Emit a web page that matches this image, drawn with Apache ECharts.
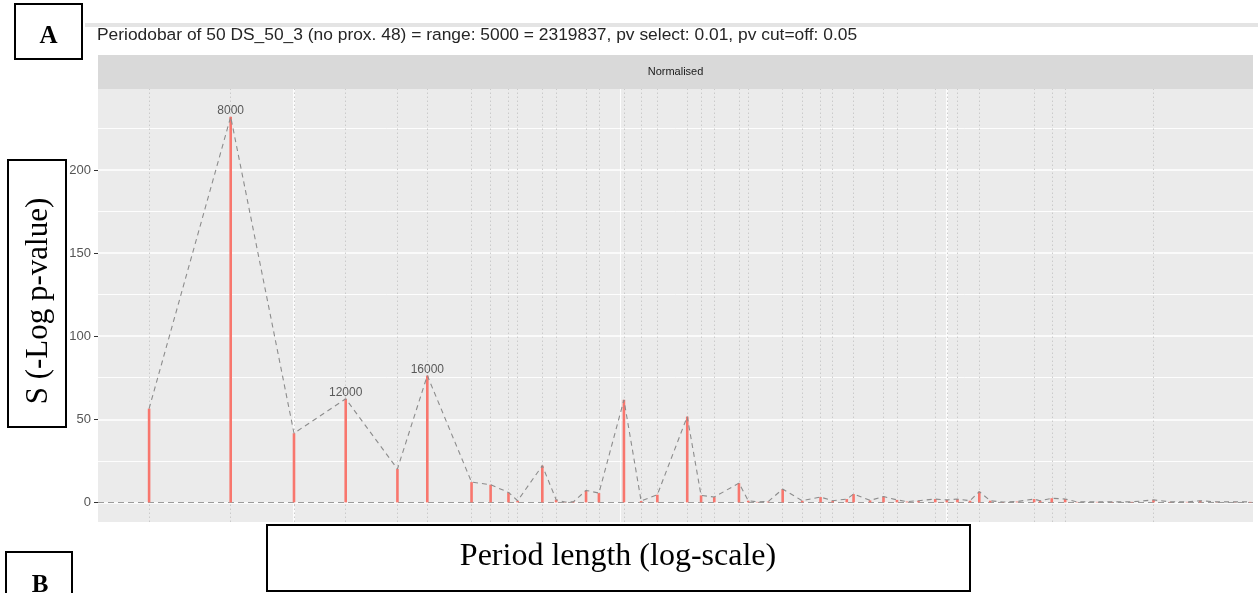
<!DOCTYPE html>
<html>
<head>
<meta charset="utf-8">
<script src="https://cdn.jsdelivr.net/npm/echarts@6/dist/echarts.min.js"></script>
<style>
html,body{margin:0;padding:0;background:#fff;}
#chart{width:1258px;height:593px;}
</style>
</head>
<body>
<div id="chart"></div>
<script>
// ---- data ----
const periods = [6000, 8000, 10000, 12000, 14400, 16000, 18700, 20000, 21300, 22000,
  24000, 25200, 26000, 26800, 28000, 29300, 32000, 34000, 36000, 40000,
  42000, 44000, 48000, 49600, 51200, 53200, 56000, 60000, 64000, 66800,
  70200, 71900, 76200, 79900, 83800, 86800, 90400, 95900, 99900, 103700,
  108400, 112000, 116400, 121800, 127900, 135900, 138800, 144600, 151600, 158000,
  169600, 178700, 191800, 207000, 219500, 232900, 244000, 258800, 276100, 291100];
const scores = [56.4, 232, 41.6, 62.3, 20.1, 76.3, 12.2, 10.6, 6.0, 1.0,
  22.1, 1.6, 0.2, 0.5, 7.2, 5.6, 61.7, 0.8, 4.6, 51.6,
  4.2, 3.2, 11.6, 1.0, 0.3, 0.5, 8.0, 1.0, 3.2, 1.0,
  2.0, 5.0, 1.2, 3.5, 1.5, 0.5, 1.0, 2.0, 1.5, 2.0,
  1.0, 6.5, 1.0, 0.2, 0.5, 2.0, 1.0, 2.5, 2.0, 0.3,
  0.3, 0.3, 0.3, 1.5, 0.3, 0.3, 1.0, 0.3, 0.3, 0.3];
// periods marked with a dotted vertical guide (selected periods)
const selectedPeriods = [6000, 8000, 10000, 12000, 14400, 16000, 18700, 20000, 21300, 22000,
  24000, 25200, 28000, 29300, 32000, 34000, 36000, 40000, 42000, 44000,
  48000, 49600, 56000, 60000, 64000, 66800, 71900, 79900, 83800, 95900,
  99900, 103700, 112000, 135900, 144600, 151600, 207000];
const labelPeriods = [8000, 12000, 16000];
const yTicks = [0, 50, 100, 150, 200];
const yMinorTicks = [25, 75, 125, 175, 225];
const xMajorBreaks = [10000, 100000];
const xMinorBreaks = [31623];
const titleText = 'Periodobar of 50 DS_50_3 (no prox. 48) = range: 5000 = 2319837, pv select: 0.01, pv cut=off: 0.05';
const stripText = 'Normalised';
const yLabelText = 'S (-Log p-value)';
const xLabelText = 'Period length (log-scale)';

// ---- build ----
const pts = periods.map((p, i) => [p, scores[i]]);
const labelPts = labelPeriods.map(p => [p, scores[periods.indexOf(p)]]);

const G = {left: 98, right: 5, top: 89, bottom: 71};

const gridLines = [];
yTicks.forEach(v => gridLines.push({yAxis: v, lineStyle: {color: '#ffffff', width: 1.6, type: 'solid'}}));
yMinorTicks.forEach(v => gridLines.push({yAxis: v, lineStyle: {color: '#ffffff', width: 0.9, type: 'solid'}}));
xMajorBreaks.forEach(v => gridLines.push({xAxis: v, lineStyle: {color: '#ffffff', width: 1.6, type: 'solid'}}));
xMinorBreaks.forEach(v => gridLines.push({xAxis: v, lineStyle: {color: '#ffffff', width: 0.9, type: 'solid'}}));

const dotted = selectedPeriods.map(p => ({xAxis: p, lineStyle: {color: '#c2c2c2', width: 0.8, type: [1.5, 2.5]}}));

const chart = echarts.init(document.getElementById('chart'), null, {renderer: 'canvas'});
chart.setOption({
  animation: false,
  backgroundColor: '#ffffff',
  grid: Object.assign({show: true, backgroundColor: '#EBEBEB', borderWidth: 0, containLabel: false}, G),
  xAxis: {
    type: 'log', logBase: 10, min: 5011, max: 293960,
    axisLine: {show: false},
    axisLabel: {show: false},
    axisTick: {show: true, length: 4, lineStyle: {color: '#333333', width: 1}, customValues: xMajorBreaks},
    splitLine: {show: false}, minorSplitLine: {show: false}
  },
  yAxis: {
    type: 'value', min: -11.8, max: 248.7,
    axisLine: {show: false},
    axisTick: {show: true, length: 4, lineStyle: {color: '#333333', width: 1}, customValues: yTicks},
    axisLabel: {show: true, margin: 7, color: '#555555', fontSize: 13, fontFamily: 'Liberation Sans', customValues: yTicks},
    splitLine: {show: false}
  },
  graphic: [
    {type: 'rect', z: 50, shape: {x: 85, y: 23, width: 1173, height: 4}, style: {fill: '#E4E4E4'}},
    {type: 'text', z: 50, x: 97, y: 35, style: {text: titleText, fontFamily: 'Liberation Sans', fontSize: 17.4, fill: '#262626', verticalAlign: 'middle'}},
    {type: 'rect', z: 50, shape: {x: 98, y: 55, width: 1155, height: 34}, style: {fill: '#D9D9D9'}},
    {type: 'text', z: 51, x: 675.5, y: 72, style: {text: stripText, fontFamily: 'Liberation Sans', fontSize: 11, fill: '#1a1a1a', align: 'center', verticalAlign: 'middle'}},
    {type: 'rect', z: 100, shape: {x: 15, y: 4, width: 67, height: 55}, style: {fill: '#ffffff', stroke: '#000000', lineWidth: 2}},
    {type: 'text', z: 101, x: 48.5, y: 37, style: {text: 'A', fontFamily: 'Liberation Serif', fontWeight: 'bold', fontSize: 25, fill: '#000', align: 'center', verticalAlign: 'middle'}},
    {type: 'rect', z: 100, shape: {x: 8, y: 160, width: 58, height: 267}, style: {fill: '#ffffff', stroke: '#000000', lineWidth: 2}},
    {type: 'text', z: 101, x: 39, y: 301, rotation: Math.PI / 2, style: {text: yLabelText, fontFamily: 'Liberation Serif', fontSize: 31, fill: '#000', align: 'center', verticalAlign: 'middle'}},
    {type: 'rect', z: 100, shape: {x: 267, y: 525, width: 703, height: 66}, style: {fill: '#ffffff', stroke: '#000000', lineWidth: 2}},
    {type: 'text', z: 101, x: 618, y: 557, style: {text: xLabelText, fontFamily: 'Liberation Serif', fontSize: 32, fill: '#000', align: 'center', verticalAlign: 'middle'}},
    {type: 'rect', z: 100, shape: {x: 6, y: 552, width: 66, height: 60}, style: {fill: '#ffffff', stroke: '#000000', lineWidth: 2}},
    {type: 'text', z: 101, x: 40, y: 586, style: {text: 'B', fontFamily: 'Liberation Serif', fontWeight: 'bold', fontSize: 25, fill: '#000', align: 'center', verticalAlign: 'middle'}}
  ],
  series: [
    {
      name: 'grid', type: 'line', z: 1, data: pts, showSymbol: false, silent: true,
      lineStyle: {width: 0, opacity: 0},
      markLine: {z: 1, silent: true, symbol: 'none', label: {show: false}, data: gridLines}
    },
    {
      name: 'vlines', type: 'line', z: 2, data: pts, showSymbol: false, silent: true,
      lineStyle: {width: 0, opacity: 0},
      markLine: {z: 2, silent: true, symbol: 'none', label: {show: false},
        data: dotted.concat([{yAxis: 0, lineStyle: {color: '#9a9a9a', width: 1, type: [6, 4]}}])}
    },
    {
      name: 'stems', type: 'custom', z: 10,
      encode: {x: 0, y: 1},
      data: pts,
      renderItem: function (params, api) {
        const a = api.coord([api.value(0), 0]);
        const b = api.coord([api.value(0), api.value(1)]);
        return {type: 'line', shape: {x1: a[0], y1: a[1], x2: b[0], y2: b[1]},
          style: {stroke: '#F8766D', lineWidth: 2.6}};
      }
    },
    {
      name: 'trend', type: 'line', z: 11, data: pts, showSymbol: false, silent: true,
      lineStyle: {color: '#8c8c8c', width: 1.1, type: [5, 4]}
    },
    {
      name: 'labels', type: 'scatter', z: 12, data: labelPts, symbolSize: 0, silent: true,
      label: {show: true, position: 'top', distance: 0, formatter: p => String(p.value[0]),
        fontFamily: 'Liberation Sans', fontSize: 12, color: '#333333'}
    }
  ]
});
</script>
</body>
</html>
